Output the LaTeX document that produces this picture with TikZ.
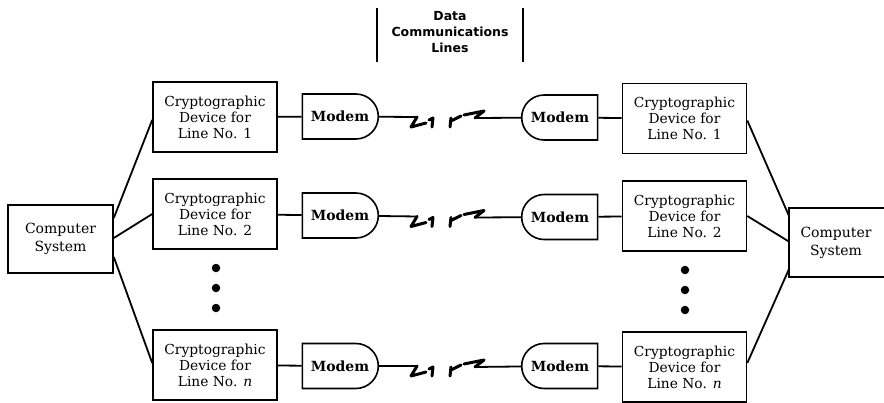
\documentclass[tikz,border=0pt]{standalone}
\usepackage{fontspec}
\setmainfont{DejaVu Serif}
\newfontfamily\labelfont{DejaVu Sans}
\usetikzlibrary{shapes.misc,calc}

\begin{document}
\begin{tikzpicture}[x=1pt,y=-1pt,
  box/.style={draw,line width=1.6pt,minimum width=124pt,minimum height=70pt,
    align=center,inner sep=0pt,font=\fontsize{13.8}{16}\selectfont},
  comp/.style={box,minimum width=105pt,minimum height=68pt,
    font=\fontsize{14}{18}\selectfont},
  modemL/.style={rounded rectangle,rounded rectangle left arc=none,draw,
    line width=1.6pt,minimum width=76pt,minimum height=45pt,inner sep=0pt,
    font=\bfseries\fontsize{14}{16}\selectfont},
  modemR/.style={modemL,rounded rectangle left arc=convex,rounded rectangle right arc=none},
  wire/.style={line width=1.8pt},
  zig/.style={line width=3pt,line cap=round,line join=round},
  bar/.style={line width=1.5pt},
  dot/.style={circle,fill,inner sep=0pt,minimum size=8.5pt}]

\useasboundingbox (0,0) rectangle (884,402);
\clip (0,0) rectangle (884,402);

% heading over the line section
\node[align=center,font=\labelfont\bfseries\fontsize{12.5}{16}\selectfont] (dcl) at (450,32)
  {Data\\Communications\\Lines};
\coordinate (bl1) at (377,8);  \coordinate (bl2) at (377,62);
\coordinate (br1) at (523,8);  \coordinate (br2) at (523,62);
\draw[bar] (bl1) -- (bl2);
\draw[bar] (br1) -- (br2);

% left computer and its cryptographic devices
\node[comp] (lc) at (60.5,239) {Computer\\System};
\node[box] (lb1) at (215,117) {Cryptographic\\Device for\\Line No. 1};
\node[box] (lb2) at (215,214) {Cryptographic\\Device for\\Line No. 2};
\node[box] (lbn) at (215,365) {Cryptographic\\Device for\\Line No. \textit{n}};
\node[modemL] (lm1) at (340,116.5) {Modem};
\node[modemL] (lm2) at (340,215.5) {Modem};
\node[modemL] (lmn) at (340,366) {Modem};

% right computer and its cryptographic devices
\node[box] (rb1) at (684.5,118.5) {Cryptographic\\Device for\\Line No. 1};
\node[box] (rb2) at (684.5,216) {Cryptographic\\Device for\\Line No. 2};
\node[box] (rbn) at (684.5,367) {Cryptographic\\Device for\\Line No. \textit{n}};
\node[modemR] (rm1) at (560,117.5) {Modem};
\node[modemR] (rm2) at (560,217) {Modem};
\node[modemR] (rmn) at (560,366) {Modem};
\node[minimum width=94pt,minimum height=69pt,align=center,inner sep=0pt,
  font=\fontsize{14}{18}\selectfont] (rc) at (836,242.5) {Computer\\System};
\draw[line width=1.6pt] ($(rc.north east)+(30,0)$) -- (rc.north west)
  -- (rc.south west) -- ($(rc.south east)+(30,0)$);

% ellipsis dots
\node[dot] (ld1) at (216,268) {};
\node[dot] (ld2) at (216,288) {};
\node[dot] (ld3) at (216,308) {};
\node[dot] (rd1) at (685,270) {};
\node[dot] (rd2) at (685,290) {};
\node[dot] (rd3) at (685,310) {};

% fan-out from the computers
\draw[wire] ($(lc.east)+(0,-21)$) -- ($(lb1.west)+(0,3)$);
\draw[wire] ($(lc.east)+(0,-1)$) -- (lb2.west);
\draw[wire] ($(lc.east)+(0,18)$) -- ($(lbn.west)+(0,-2)$);
\draw[wire] ($(rb1.east)+(0,2)$) -- ($(rc.west)+(0,-27)$);
\draw[wire] (rb2.east) -- ($(rc.west)+(0,-1)$);
\draw[wire] ($(rbn.east)+(0,-4)$) -- ($(rc.west)+(0,27)$);

% devices to modems
\draw[wire] (lb1) -- (lm1);
\draw[wire] (lb2) -- (lm2);
\draw[wire] (lbn) -- (lmn);
\draw[wire] (rm1) -- (rb1);
\draw[wire] (rm2) -- (rb2);
\draw[wire] (rmn) -- (rbn);

% data communication lines with break symbols
\foreach \r/\y in {1/117, 2/216.5, n/366} {
  \coordinate (z\r) at (449,\y);
  \draw[wire] (lm\r) -- ($(z\r)+(-31,0)$);
  \draw[zig] ($(z\r)+(-32,0)$) -- ($(z\r)+(-38,10)$) -- ($(z\r)+(-23,6)$);
  \draw[zig] ($(z\r)+(-20,3)$) -- ($(z\r)+(-16,1)$) -- ($(z\r)+(-17,10)$);
  \draw[zig] ($(z\r)+(1,10)$) -- ($(z\r)+(2,1)$);
  \draw[zig] ($(z\r)+(2,4)$) -- ($(z\r)+(12,-1)$);
  \draw[zig] ($(z\r)+(15,-2)$) -- ($(z\r)+(35,-6)$) -- ($(z\r)+(26,1)$);
  \draw[wire] ($(z\r)+(26,1)$) -- (rm\r);
}
\end{tikzpicture}
\end{document}
